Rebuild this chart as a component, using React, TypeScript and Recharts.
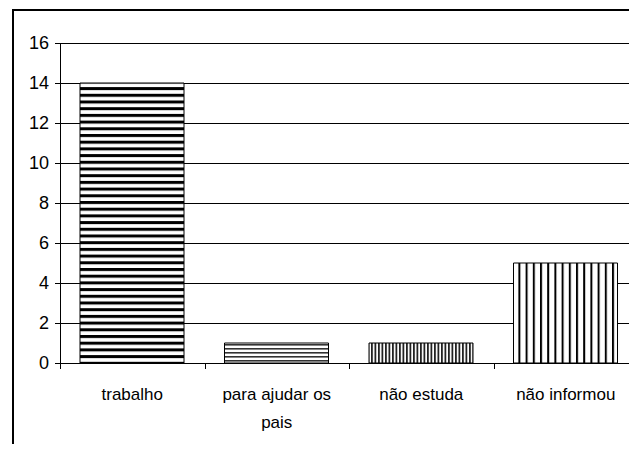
import { BarChart, Bar, XAxis, YAxis, CartesianGrid, Cell } from "recharts";

const categories = ["trabalho", "para ajudar os pais", "não estuda", "não informou"];
const counts = [14, 1, 1, 5];
const yTicks = [0, 2, 4, 6, 8, 10, 12, 14, 16];

const data = categories.map((name, i) => ({ name, value: counts[i] }));

const patternIds = ["pat-horiz-bold", "pat-horiz-thin", "pat-vert-dense", "pat-vert-wide"];

const font = "'Liberation Sans', Arial, sans-serif";

// break long labels into lines of ~15 chars
const wrap = (text: string, max = 15) => {
  const lines: string[] = [];
  let cur = "";
  text.split(" ").forEach((w) => {
    const next = cur ? cur + " " + w : w;
    if (next.length > max && cur) {
      lines.push(cur);
      cur = w;
    } else cur = next;
  });
  if (cur) lines.push(cur);
  return lines;
};

const CategoryTick = (props: any) => {
  const { x, y, payload } = props;
  const edge = Math.round(x - (payload.offset || 0)) + 0.5;
  const lines = wrap(String(payload.value));
  return (
    <g>
      <line x1={edge} y1={y} x2={edge} y2={y + 6} stroke="#000" />
      <text x={x} y={y + 37} textAnchor="middle" fontSize={17} fontFamily={font} fill="#000">
        {lines.map((l, i) => (
          <tspan key={i} x={x} dy={i === 0 ? 0 : 28}>
            {l}
          </tspan>
        ))}
      </text>
    </g>
  );
};

const Patterns = () => (
  <svg width={0} height={0} style={{ position: "absolute" }}>
    <defs>
      <pattern id="pat-horiz-bold" patternUnits="userSpaceOnUse" width={10} height={6.7}>
        <rect width={10} height={6.7} fill="#fff" />
        <rect width={10} height={3} fill="#000" />
      </pattern>
      <pattern id="pat-horiz-thin" patternUnits="userSpaceOnUse" width={10} height={4}>
        <rect width={10} height={4} fill="#fff" />
        <rect width={10} height={1.6} fill="#333" />
      </pattern>
      <pattern id="pat-vert-dense" patternUnits="userSpaceOnUse" width={3.5} height={10}>
        <rect width={3.5} height={10} fill="#fff" />
        <rect width={1.8} height={10} fill="#222" />
      </pattern>
      <pattern id="pat-vert-wide" patternUnits="userSpaceOnUse" width={7.2} height={10}>
        <rect width={7.2} height={10} fill="#fff" />
        <rect width={2} height={10} fill="#000" />
      </pattern>
    </defs>
  </svg>
);

export default function App() {
  return (
    <div
      style={{
        position: "relative",
        margin: -8,
        width: 637,
        height: 452,
        overflow: "hidden",
        background: "#fff",
      }}
    >
      <Patterns />
      <div
        style={{
          position: "absolute",
          left: 12,
          top: 9,
          width: 700,
          height: 500,
          border: "2px solid #000",
        }}
      />
      <div style={{ position: "absolute", left: 0, top: 0 }}>
        <BarChart
          width={640}
          height={452}
          data={data}
          margin={{ top: 43, right: 2, left: 0, bottom: 29 }}
        >
          <CartesianGrid vertical={false} stroke="#000" strokeOpacity={1} shapeRendering="crispEdges" />
          <XAxis
            dataKey="name"
            height={60}
            axisLine={{ stroke: "#000", shapeRendering: "crispEdges" }}
            tickLine={false}
            tickSize={0}
            tickMargin={0}
            interval={0}
            tick={<CategoryTick />}
          />
          <YAxis
            width={60}
            domain={[0, 16]}
            ticks={yTicks}
            axisLine={{ stroke: "#000", shapeRendering: "crispEdges" }}
            tickLine={{ stroke: "#000", shapeRendering: "crispEdges" }}
            tickSize={5}
            tickMargin={6}
            tick={{ fill: "#000", fontSize: 18, fontFamily: font }}
          />
          <Bar dataKey="value" barSize={104} isAnimationActive={false}>
            {data.map((d, i) => (
              <Cell key={d.name} fill={`url(#${patternIds[i]})`} stroke="#000" strokeWidth={1} />
            ))}
          </Bar>
        </BarChart>
      </div>
    </div>
  );
}
